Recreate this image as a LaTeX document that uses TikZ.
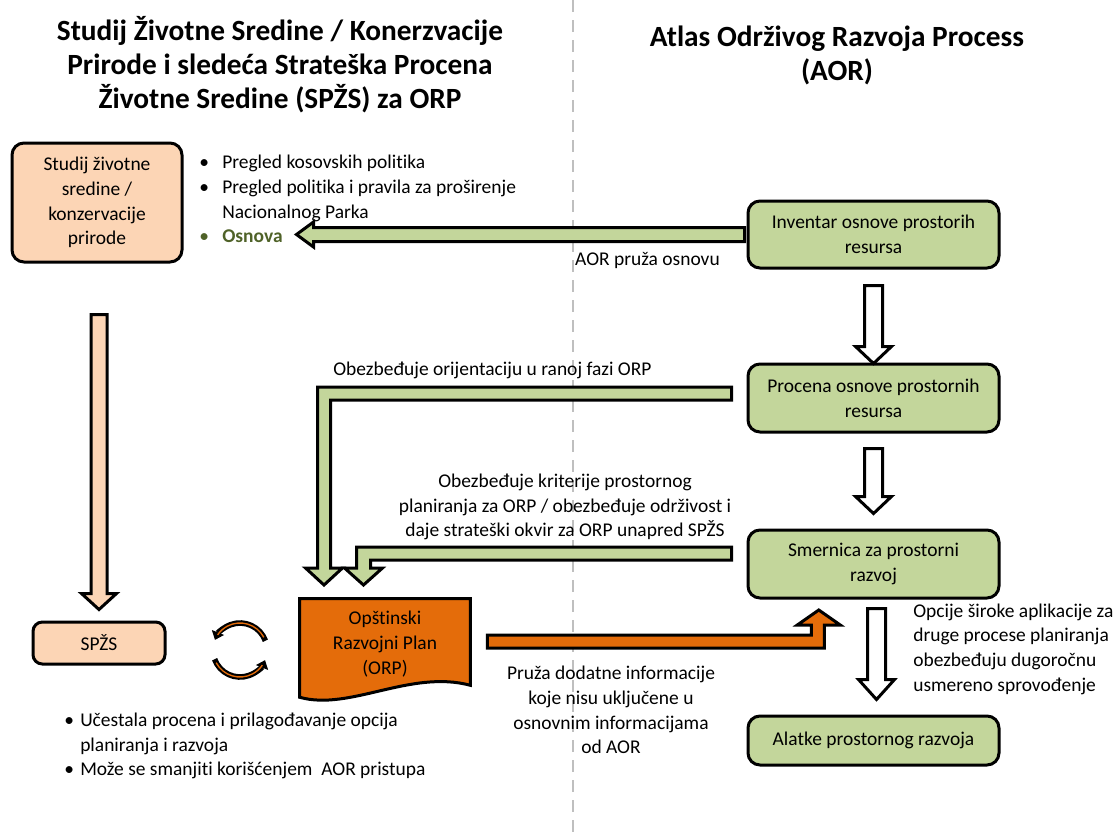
\documentclass[tikz,border=0pt]{standalone}
\usepackage{fontspec}
\setmainfont{Carlito}[Ligatures=NoCommon]
\usetikzlibrary{arrows.meta,calc,backgrounds}
\definecolor{agreen}{HTML}{C3D69B}
\definecolor{apeach}{HTML}{FCD5B5}
\definecolor{aorange}{HTML}{E46C0A}
\definecolor{aolive}{HTML}{4F6228}
\definecolor{agray}{HTML}{BFBFBF}
\newdimen\pxu \pxu=0.75pt
\tikzset{
  txt/.style={font=\fontsize{14.6}{18.5}\selectfont, inner sep=0pt},
  ttl/.style={font=\bfseries\fontsize{22}{25.5}\selectfont, align=center, inner sep=0pt},
  box/.style={txt, draw, line width=2.25pt, rounded corners=9pt, align=center},
  blk/.style={line width=2.25pt, line join=miter},
  pics/downblk/.style n args={5}{code={
    \draw[blk, fill=#1] (-#2,0) -- (-#2,#4) -- (-#3,#4) -- (0,{#4+#5}) -- (#3,#4) -- (#2,#4) -- (#2,0) -- cycle;}},
}
\begin{document}
\begin{tikzpicture}[x=0.75pt,y=-0.75pt]
\useasboundingbox (0,0) rectangle (1119,835);
\coordinate (dtop) at (573,0);
\coordinate (dbot) at (573,835);
\coordinate (cyc) at (240,650);

% titles
\node[ttl] (ttlL) at (280,64.5) {Studij Životne Sredine / Konerzvacije\\Prirode i sledeća Strateška Procena\\Životne Sredine (SPŽS) za ORP};
\node[ttl] (ttlR) at (837,55) {Atlas Održivog Razvoja Process\\(AOR)};

% boxes
\node[box, fill=apeach, minimum width=170\pxu, minimum height=119\pxu] (studij) at (97,202.5) {Studij životne\\sredine /\\konzervacije\\prirode};
\node[box, fill=apeach, minimum width=132\pxu, minimum height=42\pxu, rounded corners=7pt] (spzs) at (99,643) {SPŽS};
\node[box, fill=agreen, minimum width=251\pxu, minimum height=67\pxu] (inv) at (873.5,234.5) {Inventar osnove prostorih\\resursa};
\node[box, fill=agreen, minimum width=251\pxu, minimum height=68\pxu] (proc) at (873.5,398) {Procena osnove prostornih\\resursa};
\node[box, fill=agreen, minimum width=251\pxu, minimum height=68\pxu] (smer) at (873.5,564) {Smernica za prostorni\\razvoj};
\node[box, fill=agreen, minimum width=251\pxu, minimum height=49\pxu] (alat) at (873.5,740.5) {Alatke prostornog razvoja};
\node[txt, align=center, minimum width=170\pxu, minimum height=90\pxu] (orp) at (385,644) {Opštinski\\Razvojni Plan\\(ORP)};

\begin{scope}[on background layer]
\draw[agray, line width=1.5pt, dash pattern=on 9pt off 6pt] (dtop) -- (dbot);
\draw[blk, fill=aorange] (orp.north west) -- (orp.north east) -- ($(orp.south east)+(0,-4)$)
  .. controls ($(orp.south east)+(-60,-20)$) and ($(orp.south west)+(50,22)$) .. ($(orp.south west)+(0,8)$) -- cycle;
\end{scope}

% vertical block arrows
\pic at ($(inv.south)+(0,16)$) {downblk={white}{9}{18}{61}{17}};
\pic at ($(proc.south)+(0,15)$) {downblk={white}{9}{18}{48}{17}};
\pic at ($(smer.south)+(3,9)$) {downblk={white}{9}{18}{71}{20}};
\pic at ($(studij.south)+(2,51)$) {downblk={apeach}{8}{17.5}{279}{16}};

% green arrows
\draw[blk, fill=agreen] ($(inv.west)+(-2,-7)$) -- ++(-431,0) -- ++(0,-5.5) -- ++(-17,12.5) -- ++(17,12.5) -- ++(0,-5.5) -- ++(431,0) -- cycle;
\draw[blk, fill=agreen] ($(proc.west)+(-15,-11)$) -- ++(-414,0) -- ++(0,181) -- ++(-12,0) -- ++(18.5,17) -- ++(18.5,-17) -- ++(-12,0) -- ++(0,-168) -- ++(401,0) -- cycle;
\draw[blk, fill=agreen] ($(smer.west)+(-15,-17)$) -- ++(-375,0) -- ++(0,21) -- ++(-12,0) -- ++(19,17) -- ++(19,-17) -- ++(-12,0) -- ++(0,-8) -- ++(361,0) -- cycle;

% orange arrow
\draw[blk, fill=aorange] ($(orp.east)+(17,-9)$) -- ++(324,0) -- ++(0,-10) -- ++(-14,0) -- ++(21.5,-15) -- ++(21.5,15) -- ++(-16,0) -- ++(0,23) -- ++(-337,0) -- cycle;

% cycle arrows
\draw[line width=4.2pt, -{Triangle[length=6pt,width=9.5pt]}] (cyc) ++(-20:27) arc[start angle=-20, end angle=-158, radius=27];
\draw[aorange, line width=1pt] (cyc) ++(-28:27) arc[start angle=-28, end angle=-146, radius=27];
\draw[line width=4.2pt, -{Triangle[length=6pt,width=9.5pt]}] (cyc) ++(160:27) arc[start angle=160, end angle=22, radius=27];
\draw[aorange, line width=1pt] (cyc) ++(152:27) arc[start angle=152, end angle=34, radius=27];

% labels
\node[txt, align=left, anchor=west] (list1) at (199,199) {\makebox[23\pxu][l]{\textbullet}Pregled kosovskih politika\\\makebox[23\pxu][l]{\textbullet}Pregled politika i pravila za proširenje\\\makebox[23\pxu][l]{}Nacionalnog Parka\\{\color{aolive}\makebox[23\pxu][l]{\textbullet}\textbf{Osnova}}};
\node[txt, anchor=base east] (lab1) at (720,265) {AOR pruža osnovu};
\node[txt, anchor=base west] (lab2) at (333,375) {Obezbeđuje orijentaciju u ranoj fazi ORP};
\node[txt, align=center] (lab3) at (565,507) {Obezbeđuje kriterije prostornog\\planiranja za ORP / obezbeđuje održivost i\\daje strateški okvir za ORP unapred SPŽS};
\node[txt, align=center] (lab4) at (611,710) {Pruža dodatne informacije\\koje nisu uključene u\\osnovnim informacijama\\od AOR};
\node[txt, align=left, anchor=west] (lab5) at (913,649) {Opcije široke aplikacije za\\druge procese planiranja\\obezbeđuju dugoročnu\\usmereno sprovođenje};
\node[txt, align=left, anchor=west] (list2) at (64,746) {\makebox[16\pxu][l]{\textbullet}Učestala procena i prilagođavanje opcija\\\makebox[16\pxu][l]{}planiranja i razvoja\\\makebox[16\pxu][l]{\textbullet}Može se smanjiti korišćenjem\ \ AOR pristupa};
\end{tikzpicture}
\end{document}
